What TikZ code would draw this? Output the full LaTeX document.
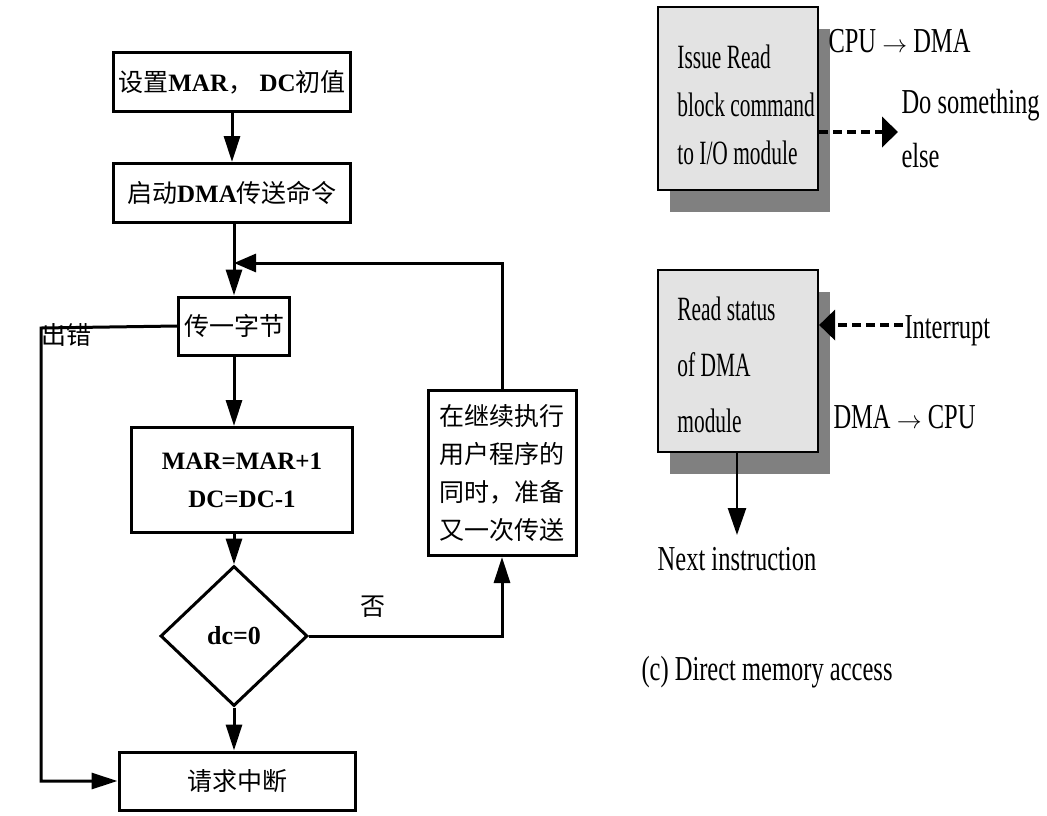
\documentclass[tikz,border=0pt]{standalone}
\usepackage{fontspec}
\setmainfont{Liberation Serif}
\newfontfamily\cjk{Noto Sans CJK SC}
\newfontfamily\narrowfont[FakeStretch=0.63]{Liberation Serif}
\newfontfamily\labelfont[FakeStretch=0.7]{Liberation Serif}
\usetikzlibrary{arrows.meta,shapes.geometric,shadows}

\begin{document}
\begin{tikzpicture}[x=1pt,y=-1pt,>={Triangle[length=26pt,width=16pt]},line width=3pt]
\tikzstyle{every node}=[font=\fontsize{25}{38}\selectfont,inner sep=0pt];
\tikzstyle{flowbox}=[draw,rectangle];
\tikzstyle{dmabox}=[draw,rectangle,line width=2.2pt,fill=black!11,minimum width=160pt,
  drop shadow={shadow xshift=12pt,shadow yshift=-22pt,fill=black!50,opacity=1}];
\tikzstyle{dmatext}=[font=\narrowfont\fontsize{34}{48}\selectfont,align=left];
\tikzstyle{dmalabel}=[font=\labelfont\fontsize{35}{40}\selectfont];
\tikzstyle{dashedarrow}=[->,>={Triangle[length=16pt,width=30pt]},dash pattern=on 9pt off 5pt,line width=4pt];
\useasboundingbox (0,0) rectangle (1047,815);
% flow chart on the left
%   nodes
    \node[flowbox,minimum width=237pt,minimum height=59pt] (init) at (232,82)
      {{\cjk 设置}\textbf{MAR}{\cjk ，} \textbf{DC}{\cjk 初值}};
    \node[flowbox,minimum width=237pt,minimum height=59pt] (start) at (232,193)
      {{\cjk 启动}\textbf{DMA}{\cjk 传送命令}};
    \node[flowbox,minimum width=111pt,minimum height=58pt] (byte) at (234,326) {\cjk 传一字节};
    \node[flowbox,minimum width=221pt,minimum height=105pt,align=center,font=\bfseries\fontsize{25}{38}\selectfont]
      (mar) at (242,480) {MAR=MAR+1\\DC=DC-1};
    \node[draw,diamond,aspect=1.05,minimum width=147pt,minimum height=140pt,font=\bfseries\fontsize{26}{30}\selectfont]
      (dc) at (234,636) {dc=0};
    \node[flowbox,minimum width=236pt,minimum height=58pt] (req) at (237,781) {\cjk 请求中断};
    \node[flowbox,minimum width=148pt,minimum height=165pt,align=center,font=\cjk\fontsize{25}{38}\selectfont]
      (cont) at (502,473) {在继续执行\\用户程序的\\同时，准备\\又一次传送};
    \node (err) at (66,335) {\cjk 出错};
    \node (no) at (373,607) {\cjk 否};
    \coordinate (join) at (234,263);
    \coordinate (errcorner) at (41,328);
%   edges
    \draw[->] (init) -- (start);
    \draw[->] (start.south -| byte.north) -- (byte.north);
    \draw[->] (byte.south) -- (byte.south |- mar.north);
    \draw[->] (dc.north |- mar.south) -- (dc.north);
    \draw[->] (dc.south) -- (dc.south |- req.north);
    \draw[->] (dc.east) -| (cont.south);
    \draw[->,>={Triangle[length=22pt,width=18pt]}] (cont.north) |- (join);
    \draw[->] (byte.west) -- (errcorner) -- (errcorner |- req.west) -- (req.west);
% DMA steps on the right
%   nodes
    \node[dmabox,minimum height=183pt] (issue) at (738,98.5) {};
    \node[dmatext,anchor=west] (issuetext) at ([xshift=19pt,yshift=-6pt]issue.west)
      {Issue Read\\block command\\to I/O module};
    \node[dmabox,minimum height=182pt] (status) at (738,361) {};
    \node[dmatext,anchor=west,font=\narrowfont\fontsize{34}{56}\selectfont] (statustext)
      at ([xshift=19pt,yshift=-4pt]status.west) {Read status\\of DMA\\module};
    \node[dmalabel,anchor=base west] (cpudma) at (827,52) {CPU $\rightarrow$ DMA};
    \node[dmalabel,anchor=base west,align=left,font=\labelfont\fontsize{35}{54}\selectfont]
      (else) at (900,167) {Do something\\else};
    \node[dmalabel,anchor=base west] (intr) at (903,338) {Interrupt};
    \node[dmalabel,anchor=base west] (dmacpu) at (832,428) {DMA $\rightarrow$ CPU};
    \node[dmalabel,anchor=base] (next) at (737,570) {Next instruction};
    \node[dmalabel,anchor=base west] (caption) at (640,680) {(c) Direct memory access};
%   edges
    \draw[dashedarrow] (issue.east |- 0,132) -- (898,132);
    \draw[dashedarrow] (intr.west |- 0,325) -- (status.east |- 0,325);
    \draw[->,>={Triangle[length=27pt,width=18pt]},line width=2.5pt]
      (status.south -| 737,0) -- (737,535);
\end{tikzpicture}
\end{document}
